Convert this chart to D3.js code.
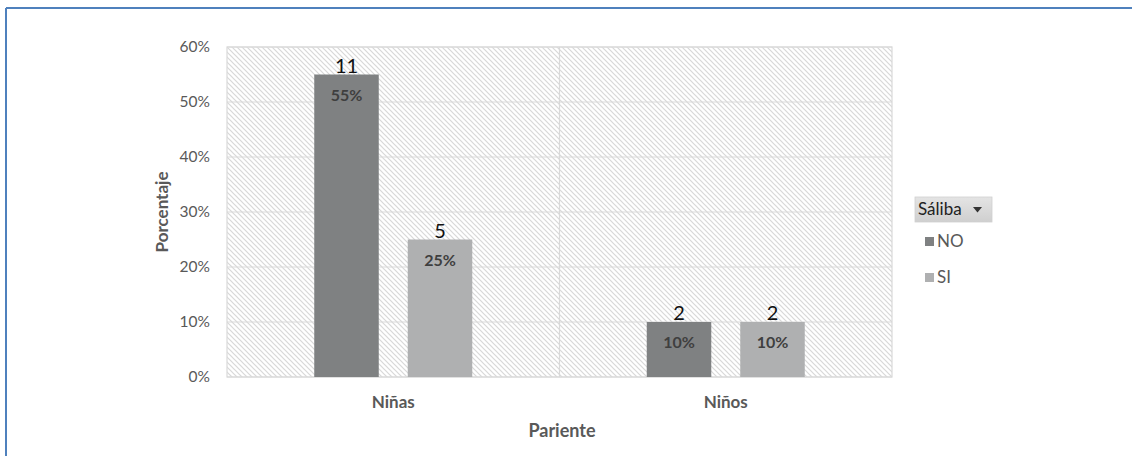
<!DOCTYPE html>
<html>
<head>
<meta charset="utf-8">
<script src="https://cdn.jsdelivr.net/npm/d3@7"></script>
<style>
  html, body { margin: 0; padding: 0; background: #fff; }
  svg { display: block; font-family: Lato, "Open Sans", sans-serif; }
</style>
</head>
<body>
<svg id="chart" width="1132" height="456"></svg>
<script>
// Data
const categories = ["Niñas", "Niños"];
const seriesNames = ["NO", "SI"];
const noValues = [0.55, 0.10];
const siValues = [0.25, 0.10];
const noCounts = [11, 2];
const siCounts = [5, 2];
const yTicks = [0, 0.1, 0.2, 0.3, 0.4, 0.5, 0.6];
const seriesColors = ["#7f8182", "#afb0b1"];

const rows = categories.map((c, i) => ({
  cat: c,
  items: [
    { s: seriesNames[0], v: noValues[i], n: noCounts[i] },
    { s: seriesNames[1], v: siValues[i], n: siCounts[i] }
  ]
}));

const FONT = "Lato, 'Open Sans', sans-serif";
const svg = d3.select("#chart");
const plot = { left: 227, right: 892, top: 47, bottom: 377 };

// Outer frame (top and left blue rules)
svg.append("line").attr("x1", 6).attr("x2", 1132).attr("y1", 8).attr("y2", 8)
  .attr("stroke", "#4f81bd").attr("stroke-width", 2);
svg.append("line").attr("x1", 6).attr("x2", 6).attr("y1", 8).attr("y2", 456)
  .attr("stroke", "#4f81bd").attr("stroke-width", 2);

// Diagonal hatch for plot background
const defs = svg.append("defs");
const pat = defs.append("pattern").attr("id", "hatch")
  .attr("patternUnits", "userSpaceOnUse").attr("width", 5).attr("height", 5);
pat.append("rect").attr("width", 5).attr("height", 5).attr("fill", "#ffffff");
pat.append("path").attr("d", "M-1,-1 L6,6 M-1,4 L1,6 M4,-1 L6,1")
  .attr("stroke", "#d8d8d8").attr("stroke-width", 1.2);

const x = d3.scaleBand().domain(categories).range([plot.left, plot.right]).padding(0);
const y = d3.scaleLinear().domain([0, 0.6]).range([plot.bottom, plot.top]);
const sub = d3.scaleBand().domain(seriesNames).range([-79, 79]).paddingInner(0.31);

svg.append("rect").attr("x", plot.left).attr("y", plot.top)
  .attr("width", plot.right - plot.left).attr("height", plot.bottom - plot.top)
  .attr("fill", "url(#hatch)").attr("stroke", "#d9d9d9").attr("stroke-width", 1.2);

// Horizontal gridlines
svg.append("g").selectAll("line").data(yTicks).join("line")
  .attr("x1", plot.left).attr("x2", plot.right)
  .attr("y1", d => y(d)).attr("y2", d => y(d))
  .attr("stroke", "#d9d9d9").attr("stroke-width", 1.2);

// Category divider
svg.append("line")
  .attr("x1", x(categories[1])).attr("x2", x(categories[1]))
  .attr("y1", plot.top).attr("y2", plot.bottom)
  .attr("stroke", "#d9d9d9").attr("stroke-width", 1.2);

// Y axis
const yAxis = d3.axisLeft(y).tickValues(yTicks).tickFormat(d3.format(".0%")).tickSize(0).tickPadding(17);
const yg = svg.append("g").attr("transform", `translate(${plot.left},0)`).call(yAxis);
yg.select(".domain").remove();
yg.selectAll("text").attr("font-size", 15.5).attr("fill", "#595959").attr("font-family", FONT);

// X axis labels
const xAxis = d3.axisBottom(x).tickSize(0).tickPadding(19);
const xg = svg.append("g").attr("transform", `translate(0,${plot.bottom})`).call(xAxis);
xg.select(".domain").remove();
xg.selectAll("text").attr("font-size", 17).attr("font-weight", "bold").attr("fill", "#595959")
  .attr("font-family", FONT);

// Bars
const groups = svg.append("g").selectAll("g").data(rows).join("g")
  .attr("transform", d => `translate(${x(d.cat) + x.bandwidth() / 2},0)`);

groups.selectAll("rect").data(d => d.items).join("rect")
  .attr("x", d => sub(d.s)).attr("width", sub.bandwidth())
  .attr("y", d => y(d.v)).attr("height", d => y(0) - y(d.v))
  .attr("fill", (d, i) => seriesColors[i]);

// Percent labels inside bars
groups.selectAll("text.pct").data(d => d.items).join("text").attr("class", "pct")
  .attr("x", d => sub(d.s) + sub.bandwidth() / 2)
  .attr("y", d => y(d.v) + 26)
  .attr("text-anchor", "middle").attr("font-size", 16).attr("font-weight", "bold")
  .attr("fill", "#3f3f3f")
  .text(d => d3.format(".0%")(d.v));

// Count labels above bars
groups.selectAll("text.cnt").data(d => d.items).join("text").attr("class", "cnt")
  .attr("x", d => sub(d.s) + sub.bandwidth() / 2)
  .attr("y", d => y(d.v) - 2)
  .attr("text-anchor", "middle").attr("font-size", 20)
  .attr("fill", "#111")
  .text(d => d.n);

// Axis titles
svg.append("text").attr("transform", "translate(168,212) rotate(-90)")
  .attr("text-anchor", "middle").attr("font-size", 17).attr("font-weight", "bold")
  .attr("fill", "#595959").text("Porcentaje");
svg.append("text").attr("x", 562).attr("y", 437)
  .attr("text-anchor", "middle").attr("font-size", 18).attr("font-weight", "bold")
  .attr("fill", "#595959").text("Pariente");

// Legend with filter button
const lg = svg.append("g").attr("transform", "translate(915,197)");
const grad = defs.append("linearGradient").attr("id", "btn").attr("x1", 0).attr("x2", 0).attr("y1", 0).attr("y2", 1);
grad.append("stop").attr("offset", "0%").attr("stop-color", "#e4e4e4");
grad.append("stop").attr("offset", "100%").attr("stop-color", "#cfcfcf");
lg.append("rect").attr("width", 77).attr("height", 25).attr("fill", "url(#btn)")
  .attr("stroke", "#d0d0d0").attr("stroke-width", 0.8);
lg.append("text").attr("x", 3).attr("y", 18).attr("font-size", 17).attr("fill", "#222").text("Sáliba");
lg.append("path").attr("d", "M58,10 L67,10 L62.5,15.5 Z").attr("fill", "#333");

const items = lg.selectAll("g.item").data(seriesNames).join("g").attr("class", "item")
  .attr("transform", (d, i) => `translate(10,${50 + i * 36})`);
items.append("rect").attr("x", 0).attr("y", -10).attr("width", 9).attr("height", 9)
  .attr("fill", (d, i) => seriesColors[i]);
items.append("text").attr("x", 12).attr("y", 0).attr("font-size", 17).attr("fill", "#595959").text(d => d);
</script>
</body>
</html>
